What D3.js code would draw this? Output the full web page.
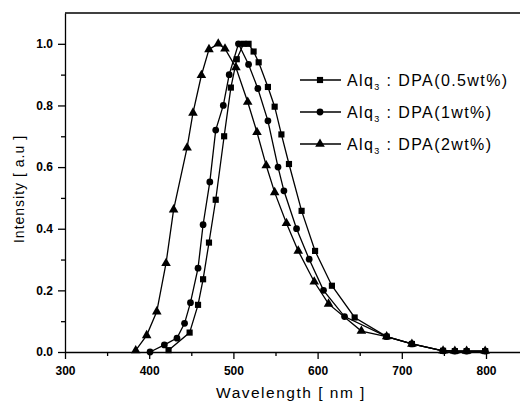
<!DOCTYPE html>
<meta charset="utf-8">
<body style="margin:0;background:#fff">
<script src="https://d3js.org/d3.v7.min.js"></script>
<script>
// 0.5wt% (squares)
var wlA = [423, 448, 458, 464, 471, 479, 489, 497, 504, 512, 518, 524, 530, 541, 549, 557, 566, 581, 597, 617, 644, 682, 712, 749, 763, 777, 799];
var inA = [0.006, 0.063, 0.153, 0.236, 0.355, 0.494, 0.70, 0.858, 0.95, 1.0, 1.0, 0.975, 0.94, 0.86, 0.796, 0.706, 0.61, 0.458, 0.328, 0.215, 0.112, 0.05, 0.026, 0.004, 0.003, 0.003, 0.003];
// 1wt% (circles)
var wlB = [401, 418, 433, 442, 449, 458, 464, 472, 479, 488, 495, 506, 518, 529, 541, 553, 560, 575, 590, 607, 632, 682, 712, 749, 763, 777, 799];
var inB = [0.0, 0.023, 0.045, 0.093, 0.16, 0.272, 0.413, 0.552, 0.72, 0.80, 0.90, 1.0, 0.933, 0.855, 0.75, 0.60, 0.523, 0.40, 0.301, 0.20, 0.115, 0.05, 0.026, 0.004, 0.003, 0.003, 0.003];
// 2wt% (triangles)
var wlC = [384, 397, 409, 420, 429, 445, 452, 462, 471, 482, 490, 503, 517, 528, 539, 549, 563, 577, 596, 613, 652, 682, 712, 749, 763, 777, 799];
var inC = [0.005, 0.054, 0.131, 0.288, 0.462, 0.663, 0.776, 0.898, 0.982, 1.0, 0.984, 0.923, 0.811, 0.713, 0.605, 0.518, 0.418, 0.328, 0.228, 0.156, 0.068, 0.05, 0.026, 0.004, 0.003, 0.003, 0.003];

var legendNames = ["DPA(0.5wt%)", "DPA(1wt%)", "DPA(2wt%)"];
var xTicks = [300, 400, 500, 600, 700, 800];
var yTicks = [0.0, 0.2, 0.4, 0.6, 0.8, 1.0];

var series = [
    {wl: wlA, val: inA, sym: d3.symbolSquare, size: 38},
    {wl: wlB, val: inB, sym: d3.symbolCircle, size: 36},
    {wl: wlC, val: inC, sym: d3.symbolTriangle, size: 40}
];

var svg = d3.select("body").append("svg")
    .attr("width", 520)
    .attr("height", 406)
    .style("font-family", "Liberation Sans, Arial, sans-serif");

var x = d3.scaleLinear().domain([300, 800]).range([65, 486]);
var y = d3.scaleLinear().domain([0, 1.1]).range([352, 13]);

// frame top line
svg.append("line").attr("x1", 65).attr("x2", 520).attr("y1", 13).attr("y2", 13)
    .attr("stroke", "#000").attr("stroke-width", 1.5);

// x axis
var xMinor = d3.range(350, 900, 100);
svg.append("g").attr("transform", "translate(0,352)")
    .call(d3.axisBottom(x).tickValues(xMinor).tickSize(4).tickFormat(""))
    .call(function(g) { g.select(".domain").remove(); });
var gx = svg.append("g").attr("transform", "translate(0,352)")
    .call(d3.axisBottom(x.copy().domain([300, 300 + (525 - 65) / 0.842]).range([65, 525])).tickValues(xTicks).tickSize(7).tickSizeOuter(0).tickPadding(7).tickFormat(d3.format("d")));
gx.selectAll("text").attr("font-size", 12).attr("font-weight", "bold").attr("fill", "#000");

// y axis
var yMinor = d3.range(0.1, 1.1, 0.2);
svg.append("g").attr("transform", "translate(65,0)")
    .call(d3.axisLeft(y).tickValues(yMinor).tickSize(4).tickFormat(""))
    .call(function(g) { g.select(".domain").remove(); });
var gy = svg.append("g").attr("transform", "translate(65,0)")
    .call(d3.axisLeft(y).tickValues(yTicks).tickSize(7).tickSizeOuter(0).tickPadding(5).tickFormat(d3.format(".1f")));
gy.selectAll("text").attr("font-size", 12).attr("font-weight", "bold").attr("fill", "#000");
svg.selectAll(".domain, .tick line").attr("stroke", "#000").attr("stroke-width", 1.3);

// curves
var line = d3.line();
series.forEach(function(s) {
    var pts = s.wl.map(function(w, i) { return [x(w), y(s.val[i])]; });
    svg.append("path").attr("d", line(pts)).attr("fill", "none")
        .attr("stroke", "#000").attr("stroke-width", 1.3);
    svg.append("g").selectAll("path").data(pts).enter().append("path")
        .attr("transform", function(p) { return "translate(" + p[0] + "," + p[1] + ")"; })
        .attr("d", d3.symbol().type(s.sym).size(s.size))
        .attr("fill", "#000");
});

// legend
var leg = svg.append("g");
series.forEach(function(s, i) {
    var ly = 80 + i * 32;
    leg.append("line").attr("x1", 300).attr("x2", 341).attr("y1", ly).attr("y2", ly)
        .attr("stroke", "#000").attr("stroke-width", 1.3);
    leg.append("path").attr("transform", "translate(320," + ly + ")")
        .attr("d", d3.symbol().type(s.sym).size(s.size)).attr("fill", "#000");
    var t = leg.append("text").attr("x", 347).attr("y", ly + 6).attr("font-size", 16)
        .attr("letter-spacing", 1.4).attr("fill", "#000");
    t.append("tspan").text("Alq");
    t.append("tspan").attr("font-size", 9).attr("dy", 4).text("3");
    t.append("tspan").attr("dy", -4).text(" : " + legendNames[i]);
});

// axis titles
svg.append("text").attr("x", 291).attr("y", 398).attr("text-anchor", "middle")
    .attr("font-size", 15.5).attr("letter-spacing", 1.5).text("Wavelength  [ nm ]");
svg.append("text").attr("transform", "translate(24,189) rotate(-90)").attr("text-anchor", "middle")
    .attr("font-size", 14).attr("letter-spacing", 1).text("Intensity  [ a.u ]");
</script>
</body>
